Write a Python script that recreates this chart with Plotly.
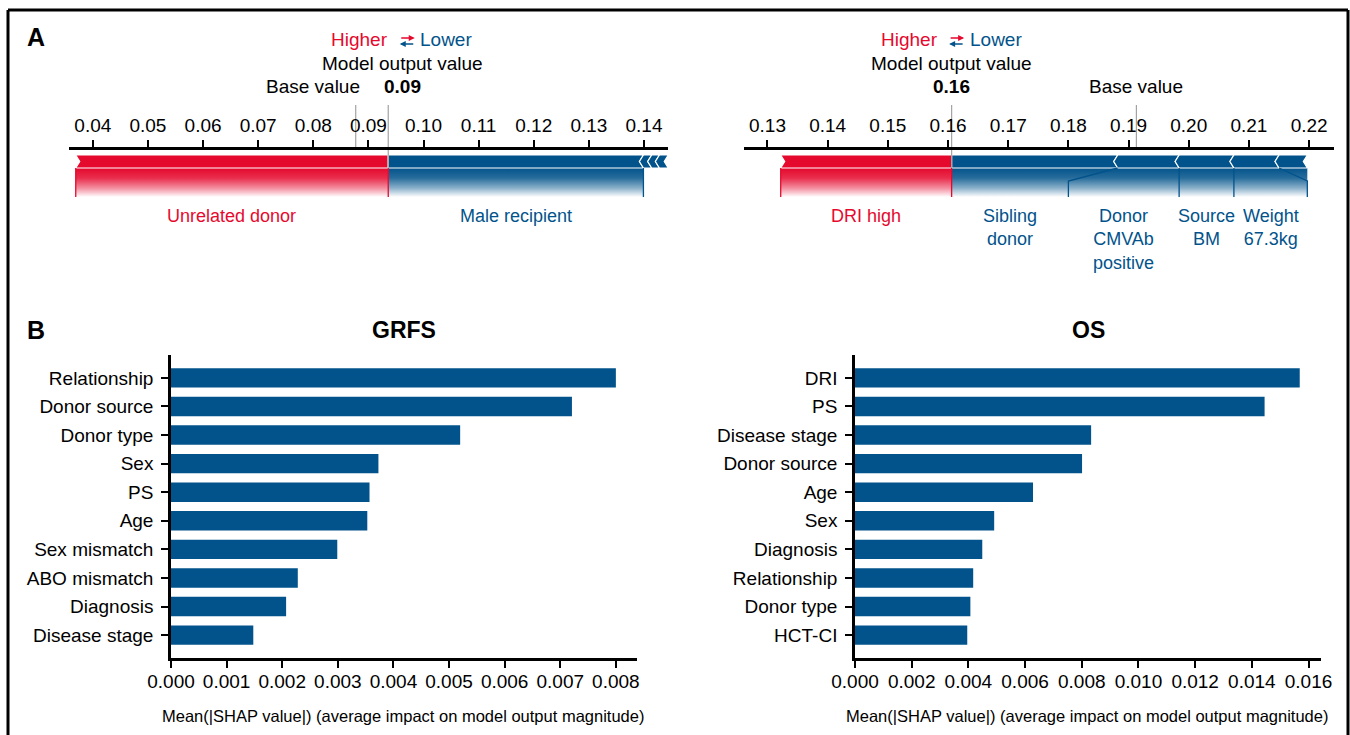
import plotly.graph_objects as go

# ---------------- Panel A: single-patient SHAP force plots ----------------
grfs_base = 0.0877
grfs_up_names = ["Unrelated donor"]
grfs_up_vals = [0.0567]
grfs_down_names = ["Male recipient", "", "", ""]
grfs_down_vals = [0.0463, 0.0015, 0.0014, 0.0016]
grfs_force_ticks = [0.04, 0.05, 0.06, 0.07, 0.08, 0.09, 0.10, 0.11, 0.12, 0.13, 0.14]

os_base = 0.1913
os_up_names = ["DRI high"]
os_up_vals = [0.0284]
os_down_names = ["Sibling<br>donor", "Donor<br>CMVAb<br>positive", "Source<br>BM", "Weight<br>67.3kg", ""]
os_down_vals = [0.0276, 0.0102, 0.0091, 0.0075, 0.0047]
os_force_ticks = [0.13, 0.14, 0.15, 0.16, 0.17, 0.18, 0.19, 0.20, 0.21, 0.22]

# ---------------- Panel B: mean |SHAP| feature importance ----------------
grfs_features = ["Relationship", "Donor source", "Donor type", "Sex", "PS", "Age",
                 "Sex mismatch", "ABO mismatch", "Diagnosis", "Disease stage"]
grfs_importance = [0.00800, 0.00721, 0.00520, 0.00373, 0.00357, 0.00353,
                   0.00299, 0.00228, 0.00207, 0.00148]
grfs_xticks = [0.000, 0.001, 0.002, 0.003, 0.004, 0.005, 0.006, 0.007, 0.008]

os_features = ["DRI", "PS", "Disease stage", "Donor source", "Age", "Sex",
               "Diagnosis", "Relationship", "Donor type", "HCT-CI"]
os_importance = [0.01569, 0.01445, 0.00833, 0.00801, 0.00628, 0.00491,
                 0.00449, 0.00417, 0.00407, 0.00396]
os_xticks = [0.000, 0.002, 0.004, 0.006, 0.008, 0.010, 0.012, 0.014, 0.016]

# ---------------- styling ----------------
W, H = 1350, 735
RED = "#E5092E"
BLUE = "#02538B"
GRAY = "#A3A3A3"
FONT = "Liberation Sans, Arial, Helvetica, sans-serif"


def fx(x):
    return x / W


def fy(y):
    return 1 - y / H


def fade(hex_color, t):
    """Mix a colour with white; t=1 gives the colour, t=0 white."""
    r, g, b = (int(hex_color[i:i + 2], 16) for i in (1, 3, 5))
    mix = lambda c: round(255 + (c - 255) * t)
    return "rgb(%d,%d,%d)" % (mix(r), mix(g), mix(b))


# vertical layout of a force plot, in pixels below its axis line
AXIS_Y = 148
BAR_TOP, BAR_MID, BAR_BOT = 7, 13.5, 20
SLANT_END, LINE_END = 33, 49
LABEL_TOP = 56
GUIDE_TOP = -43
Y_DOM = (100, 262)  # pixel rows covered by the force-plot y axis

force_panels = [
    dict(xa="x", ya="y", dom=(69.4, 668.0), rng=(0.03575, 0.14436),
         base=grfs_base, up_names=grfs_up_names, up_vals=grfs_up_vals,
         down_names=grfs_down_names, down_vals=grfs_down_vals, ticks=grfs_force_ticks,
         head_shift=14, base_anchor="right", base_shift=6.5, slot_override={}),
    dict(xa="x2", ya="y2", dom=(744.0, 1333.8), rng=(0.1261, 0.2241),
         base=os_base, up_names=os_up_names, up_vals=os_up_vals,
         down_names=os_down_names, down_vals=os_down_vals, ticks=os_force_ticks,
         head_shift=0, base_anchor="center", base_shift=0,
         slot_override={1: 0.1800, 4: 0.2197}),
]

fig = go.Figure()
annotations = []
layout_axes = {}


def line_trace(xs, ys, color, width, xa, ya):
    fig.add_trace(go.Scatter(x=xs, y=ys, mode="lines", xaxis=xa, yaxis=ya,
                             line=dict(color=color, width=width),
                             hoverinfo="skip", showlegend=False))


def poly_trace(xs, ys, color, xa, ya):
    fig.add_trace(go.Scatter(x=xs, y=ys, mode="lines", fill="toself", fillcolor=color,
                             xaxis=xa, yaxis=ya, line=dict(color="white", width=1.2),
                             hoverinfo="skip", showlegend=False))


def gradient_trace(x0, x1, color, xa, ya):
    fig.add_trace(go.Scatter(
        x=[x0, x1, x1, x0, x0], y=[BAR_BOT, BAR_BOT, LINE_END, LINE_END, BAR_BOT],
        mode="lines", fill="toself", xaxis=xa, yaxis=ya,
        line=dict(width=0, color="rgba(0,0,0,0)"),
        fillgradient=dict(type="vertical", start=LINE_END, stop=BAR_BOT,
                          colorscale=[[0, fade(color, 0.0)], [0.3, fade(color, 0.45)],
                                      [0.65, fade(color, 0.85)], [1, fade(color, 1.0)]]),
        hoverinfo="skip", showlegend=False))


for i, p in enumerate(force_panels):
    xa, ya = p["xa"], p["ya"]
    suffix = "" if i == 0 else str(i + 1)
    out = p["base"] + sum(p["up_vals"]) - sum(p["down_vals"])
    px_per_unit = (p["dom"][1] - p["dom"][0]) / (p["rng"][1] - p["rng"][0])
    tip = 4.0 / px_per_unit

    # features pushing the prediction up (drawn to the left of the output)
    up_edges = [out]
    for v in p["up_vals"]:
        up_edges.append(up_edges[-1] - v)
    # features pushing the prediction down (drawn to the right of the output)
    dn_edges = [out]
    for v in p["down_vals"]:
        dn_edges.append(dn_edges[-1] + v)

    n_up = sum(1 for n in p["up_names"] if n)
    n_dn = sum(1 for n in p["down_names"] if n)
    up_slots = [up_edges[k] for k in range(n_up + 1)]
    dn_slots = [p["slot_override"].get(k, dn_edges[k]) for k in range(n_dn + 1)]

    # faded areas under the arrows
    gradient_trace(up_edges[-1], out, RED, xa, ya)
    gradient_trace(out, dn_slots[-1], BLUE, xa, ya)

    # arrow-shaped segments
    for k in range(len(p["up_vals"])):
        a, b = up_edges[k + 1], up_edges[k]
        tr = 0 if k == 0 else tip
        poly_trace([a, b, b + tr, b, a, a + tip, a],
                   [BAR_TOP, BAR_TOP, BAR_MID, BAR_BOT, BAR_BOT, BAR_MID, BAR_TOP], RED, xa, ya)
    for k in range(len(p["down_vals"])):
        a, b = dn_edges[k], dn_edges[k + 1]
        tl = 0 if k == 0 else tip
        poly_trace([a, b, b - tip, b, a, a - tl, a],
                   [BAR_TOP, BAR_TOP, BAR_MID, BAR_BOT, BAR_BOT, BAR_MID, BAR_TOP], BLUE, xa, ya)

    # base value and output guides
    line_trace([p["base"], p["base"]], [GUIDE_TOP, 0], GRAY, 1.2, xa, ya)
    line_trace([out, out], [GUIDE_TOP, BAR_BOT], GRAY, 1.2, xa, ya)

    # dividers leading from the bar to the label slots
    for k in range(n_up + 1):
        line_trace([up_edges[k], up_slots[k], up_slots[k]], [BAR_BOT, SLANT_END, LINE_END],
                   RED, 1.3, xa, ya)
    for k in range(1, n_dn + 1):
        line_trace([dn_edges[k], dn_slots[k], dn_slots[k]], [BAR_BOT, SLANT_END, LINE_END],
                   BLUE, 1.3, xa, ya)

    # feature labels
    for k in range(n_up):
        annotations.append(dict(x=(up_slots[k] + up_slots[k + 1]) / 2, y=LABEL_TOP,
                                xref=xa, yref=ya, text=p["up_names"][k], showarrow=False,
                                xanchor="center", yanchor="top",
                                font=dict(family=FONT, size=18, color=RED)))
    for k in range(n_dn):
        annotations.append(dict(x=(dn_slots[k] + dn_slots[k + 1]) / 2, y=LABEL_TOP,
                                xref=xa, yref=ya, text=p["down_names"][k], showarrow=False,
                                xanchor="center", yanchor="top",
                                font=dict(family=FONT, size=18, color=BLUE)))

    # header: direction key, output value and base value (rows given in pixels)
    hs = p["head_shift"]
    head = [
        dict(text="Higher", xshift=hs - 12, xanchor="right", row=40, color=RED, size=19),
        dict(text="Lower", xshift=hs + 16, xanchor="left", row=40, color=BLUE, size=19),
        dict(text="Model output value", xshift=hs, xanchor="center", row=63, color="black", size=19),
        dict(text="<b>%.2f</b>" % out, xshift=hs, xanchor="center", row=87, color="black", size=19),
    ]
    for h in head:
        annotations.append(dict(x=out, y=fy(h["row"]), xref=xa, yref="paper", text=h["text"],
                                showarrow=False, xanchor=h["xanchor"], yanchor="middle",
                                xshift=h["xshift"],
                                font=dict(family=FONT, size=h["size"], color=h["color"])))
    # the two small opposing arrows between "Higher" and "Lower"
    for row, head_dx, tail_dx, color in ((38, 10, -5, RED), (44, -5, 10, BLUE)):
        annotations.append(dict(x=out, y=fy(row), xref=xa, yref="paper", text="",
                                showarrow=True, xshift=hs + 2.5 + head_dx,
                                ax=tail_dx - head_dx, ay=0, axref="pixel", ayref="pixel",
                                arrowhead=2, arrowsize=0.8, arrowwidth=1.5,
                                arrowcolor=color, standoff=0, startstandoff=0))
    annotations.append(dict(x=p["base"], y=fy(87), xref=xa, yref="paper", text="Base value",
                            showarrow=False, xanchor=p["base_anchor"], yanchor="middle",
                            xshift=p["base_shift"],
                            font=dict(family=FONT, size=19, color="black")))

    layout_axes["xaxis" + suffix] = dict(
        domain=[fx(p["dom"][0]), fx(p["dom"][1])], range=list(p["rng"]),
        anchor="free", position=fy(AXIS_Y), side="top",
        tickvals=p["ticks"], ticktext=["%.2f" % t for t in p["ticks"]],
        ticks="outside", ticklen=7, tickwidth=2, tickcolor="black",
        showline=True, linewidth=3, linecolor="black",
        showgrid=False, zeroline=False, automargin=False,
        tickfont=dict(family=FONT, size=19, color="black"))
    layout_axes["yaxis" + suffix] = dict(
        domain=[fy(Y_DOM[1]), fy(Y_DOM[0])],
        range=[Y_DOM[1] - AXIS_Y, Y_DOM[0] - AXIS_Y],
        anchor=xa, visible=False, showgrid=False, zeroline=False, automargin=False)

# ---------------- Panel B bar charts ----------------
bar_panels = [
    dict(xa="x3", ya="y3", names=grfs_features, vals=grfs_importance, ticks=grfs_xticks,
         dom=(171, 637), xmax=0.00838, title="GRFS", title_x=404, xtitle_x=403),
    dict(xa="x4", ya="y4", names=os_features, vals=os_importance, ticks=os_xticks,
         dom=(855, 1321), xmax=0.01644, title="OS", title_x=1088, xtitle_x=1087),
]
BAR_DOM = (355, 658)

for j, b in enumerate(bar_panels):
    suffix = str(j + 3)
    fig.add_trace(go.Bar(x=b["vals"], y=b["names"], orientation="h", width=0.68,
                         marker=dict(color=BLUE, line=dict(width=0)),
                         xaxis=b["xa"], yaxis=b["ya"], showlegend=False,
                         hoverinfo="x+y"))
    n = len(b["names"])
    layout_axes["xaxis" + suffix] = dict(
        domain=[fx(b["dom"][0]), fx(b["dom"][1])], range=[0, b["xmax"]],
        anchor=b["ya"], tickvals=b["ticks"], ticktext=["%.3f" % t for t in b["ticks"]],
        ticks="outside", ticklen=7, tickwidth=2, tickcolor="black",
        showline=True, linewidth=2.5, linecolor="black",
        showgrid=False, zeroline=False, automargin=False, ticklabelstandoff=-3,
        tickfont=dict(family=FONT, size=19, color="black"))
    layout_axes["yaxis" + suffix] = dict(
        domain=[fy(BAR_DOM[1]), fy(BAR_DOM[0])],
        anchor=b["xa"], type="category", categoryorder="array", categoryarray=b["names"],
        range=[n - 1 + 0.8, -0.8],
        ticks="outside", ticklen=7, tickwidth=2, tickcolor="black",
        showline=True, linewidth=2.5, linecolor="black",
        showgrid=False, zeroline=False, automargin=False, ticklabelstandoff=4,
        tickfont=dict(family=FONT, size=19, color="black"))
    annotations.append(dict(x=fx(b["title_x"]), y=fy(330), xref="paper", yref="paper",
                            text="<b>%s</b>" % b["title"], showarrow=False,
                            xanchor="center", yanchor="middle",
                            font=dict(family=FONT, size=23, color="black")))
    annotations.append(dict(x=fx(b["xtitle_x"]), y=fy(716), xref="paper", yref="paper",
                            text="Mean(|SHAP value|) (average impact on model output magnitude)",
                            showarrow=False, xanchor="center", yanchor="middle",
                            font=dict(family=FONT, size=16.5, color="black")))

# panel letters
for letter, yy in (("A", 37), ("B", 330)):
    annotations.append(dict(x=fx(36), y=fy(yy), xref="paper", yref="paper",
                            text="<b>%s</b>" % letter, showarrow=False,
                            xanchor="center", yanchor="middle",
                            font=dict(family=FONT, size=25, color="black")))

# frame around the figure
frame = [
    dict(type="line", xref="paper", yref="paper", x0=fx(8), x1=fx(1348), y0=fy(10), y1=fy(10)),
    dict(type="line", xref="paper", yref="paper", x0=fx(8), x1=fx(8), y0=fy(10), y1=fy(740)),
    dict(type="line", xref="paper", yref="paper", x0=fx(1348), x1=fx(1348), y0=fy(10), y1=fy(740)),
]
for s in frame:
    s["line"] = dict(color="black", width=3)

fig.update_layout(
    width=W, height=H, margin=dict(l=0, r=0, t=0, b=0, autoexpand=False),
    template="none",
    paper_bgcolor="white", plot_bgcolor="white",
    font=dict(family=FONT, size=19, color="black"),
    annotations=annotations, shapes=frame, bargap=0.3,
    **layout_axes)

fig.write_html("out.html")
